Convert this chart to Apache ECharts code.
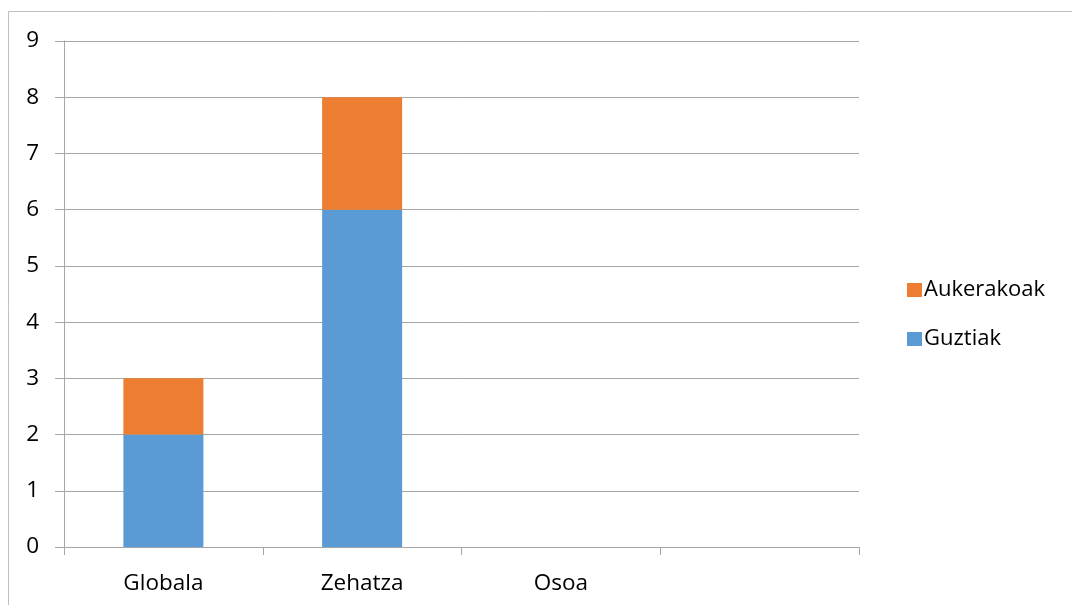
<!DOCTYPE html>
<html>
<head>
<meta charset="utf-8">
<script src="https://cdn.jsdelivr.net/npm/echarts@6/dist/echarts.min.js"></script>
<style>html,body{margin:0;padding:0;background:#fff}#c{width:1072px;height:605px}</style>
</head>
<body>
<div id="c"></div>
<script>
const categories = ['Globala', 'Zehatza', 'Osoa', ''];
const guztiak = [2, 6, 0, 0];
const aukerakoak = [1, 2, 0, 0];
const yTicks = [0, 9, 1];

const FONT = 'Open Sans';
const chart = echarts.init(document.getElementById('c'));
chart.setOption({
  animation: false,
  backgroundColor: '#fff',
  textStyle: { fontFamily: FONT },
  graphic: [{
    type: 'rect', silent: true,
    shape: { x: 8.5, y: 11.5, width: 3000, height: 3000 },
    style: { fill: 'none', stroke: '#c0c0c0', lineWidth: 1 }
  }],
  grid: { left: 64, right: 213, top: 41, bottom: 58, containLabel: false },
  legend: {
    orient: 'vertical',
    left: 902, top: 274,
    itemWidth: 15, itemHeight: 14, itemGap: 27,
    icon: 'rect',
    data: ['Aukerakoak', 'Guztiak'],
    textStyle: { fontFamily: FONT, fontSize: 22, color: '#000', lineHeight: 22, padding: [0, 0, 0, -3] }
  },
  xAxis: {
    type: 'category',
    data: categories,
    axisLine: { lineStyle: { color: '#a6a6a6', width: 1 } },
    axisTick: { show: true, length: 8, lineStyle: { color: '#a6a6a6' } },
    axisLabel: { fontFamily: FONT, fontSize: 22.5, color: '#000', margin: 25 }
  },
  yAxis: {
    type: 'value',
    min: yTicks[0], max: yTicks[1], interval: yTicks[2],
    axisLine: { show: true, lineStyle: { color: '#a6a6a6', width: 1 } },
    axisTick: { show: true, length: 9, lineStyle: { color: '#a6a6a6' } },
    axisLabel: { fontFamily: FONT, fontSize: 22.5, color: '#000', margin: 25 },
    splitLine: { show: true, lineStyle: { color: '#a6a6a6', width: 1 } }
  },
  series: [
    { name: 'Guztiak', type: 'bar', stack: 's', data: guztiak, barWidth: 80, itemStyle: { color: '#5B9BD5' } },
    { name: 'Aukerakoak', type: 'bar', stack: 's', data: aukerakoak, barWidth: 80, itemStyle: { color: '#ED7D31' } }
  ]
});
</script>
</body>
</html>
